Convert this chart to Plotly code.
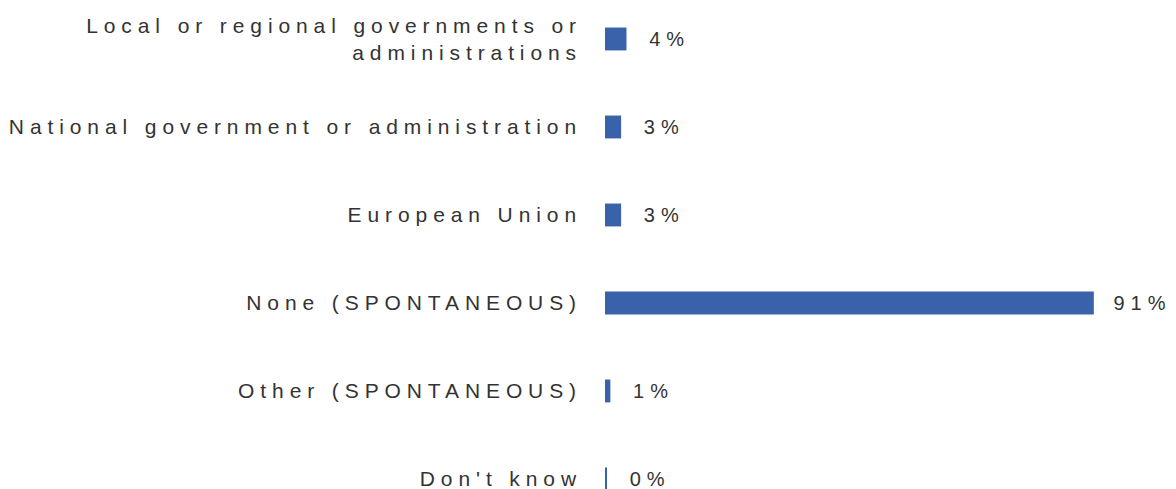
import plotly.graph_objects as go

categories = [
    "Local or regional governments or<br>administrations",
    "National government or administration",
    "European Union",
    "None (SPONTANEOUS)",
    "Other (SPONTANEOUS)",
    "Don't know",
]
values = [4, 3, 3, 91, 1, 0.3]
labels = ["4%", "3%", "3%", "91%", "1%", "0%"]

FONT = "Liberation Sans, Arial, Helvetica, sans-serif"
TXT = "#333333"

fig = go.Figure(
    go.Bar(
        x=values,
        y=categories,
        orientation="h",
        marker=dict(color="#3A62AA", line=dict(width=0)),
        width=0.26,
        text=["\u00a0\u00a0\u00a0" + t for t in labels],
        textposition="outside",
        textfont=dict(family=FONT, size=20, color=TXT),
        cliponaxis=False,
        hoverinfo="skip",
    )
)

fig.update_layout(
    width=1176,
    height=489,
    margin=dict(l=605, r=0, t=0, b=0),
    paper_bgcolor="white",
    plot_bgcolor="white",
    showlegend=False,
    font=dict(family=FONT, size=21, color=TXT),
    xaxis=dict(range=[0, 106.3], visible=False, showgrid=False, zeroline=False),
    yaxis=dict(
        type="category",
        categoryorder="array",
        categoryarray=categories,
        range=[5.114, -0.443],
        showgrid=False,
        zeroline=False,
        showline=False,
        ticks="",
        ticklabelstandoff=22,
        tickfont=dict(family=FONT, size=21, color=TXT),
    ),
)

post = """
document.body.style.margin = '0';
document.body.style.overflow = 'hidden';
var gd = document.getElementById('{plot_id}');
function sp(){
  gd.querySelectorAll('.ytick text').forEach(function(t){ t.style.letterSpacing='5.9px'; });
  gd.querySelectorAll('text.bartext').forEach(function(t){ t.style.letterSpacing='6px'; });
}
sp();
gd.on('plotly_afterplot', sp);
"""

fig.write_html("out.html", post_script=post, config={"displayModeBar": False})
